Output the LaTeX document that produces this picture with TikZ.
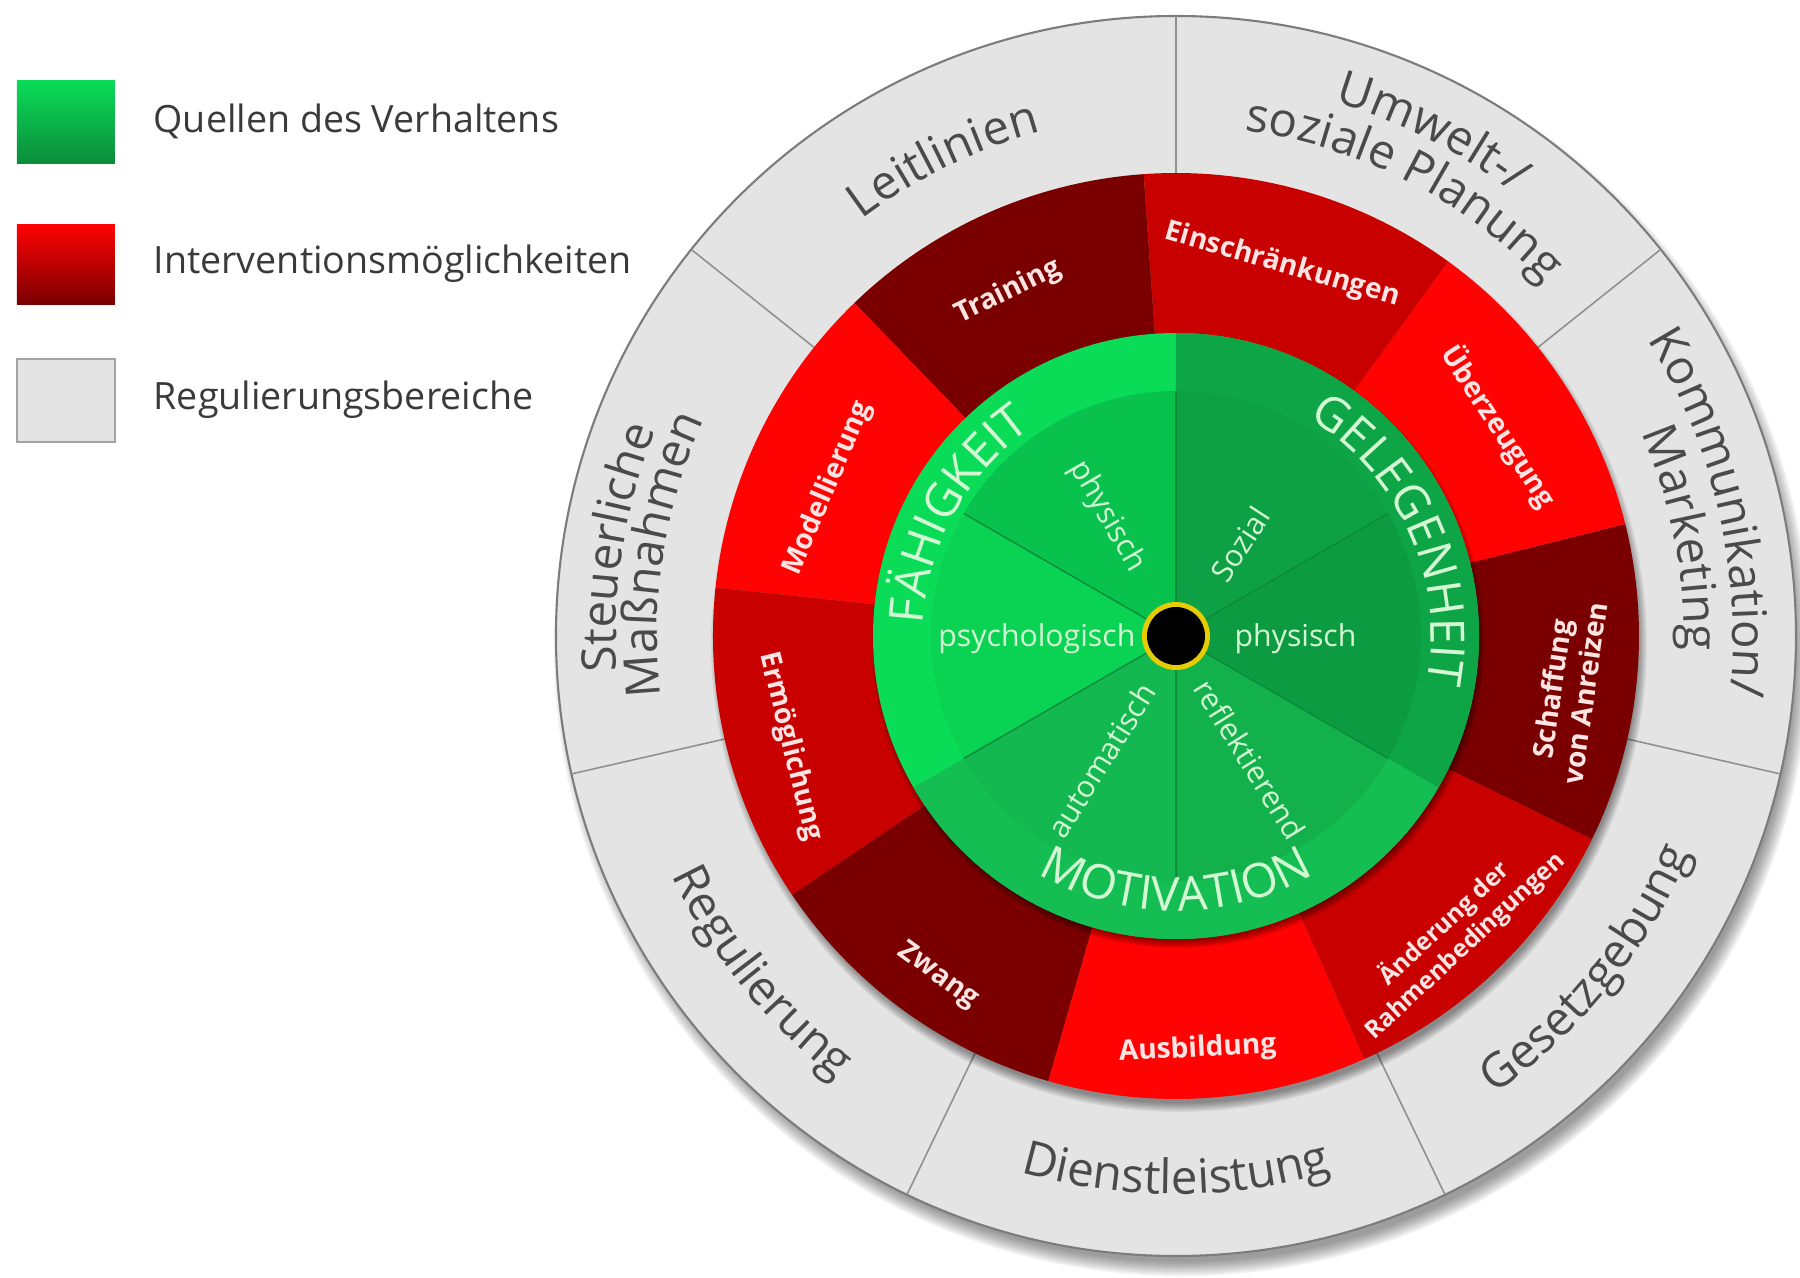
\documentclass[tikz,border=0pt]{standalone}
\usepackage{fontspec}
\setmainfont{Open Sans}
\usepackage{tikz}
\usetikzlibrary{decorations.text}

\definecolor{ringgray}{HTML}{E4E4E4}
\definecolor{ringline}{HTML}{7C7C7C}
\definecolor{ringtext}{HTML}{4A4A4A}
\definecolor{redA}{HTML}{FF0303}
\definecolor{redB}{HTML}{C80000}
\definecolor{redC}{HTML}{7A0000}
\definecolor{redtext}{HTML}{FFE4E4}
\definecolor{grnF}{HTML}{0ADC58}
\definecolor{grnM}{HTML}{14BE52}
\definecolor{grnG}{HTML}{0EA546}
\definecolor{grnLine}{HTML}{0B8A3A}
\definecolor{grntext}{HTML}{D4F8D4}
\definecolor{dotring}{HTML}{E6CC00}
\definecolor{legendtext}{HTML}{3A3A3A}

\newcommand\ringfont{\fontsize{13.5}{16}\selectfont}
\newcommand\srcfont{\fontsize{13.5}{16}\selectfont}

% text on an arc: start angle, end angle, radius, font, colour, text
\newcommand\arctext[6]{%
  \path[decorate, decoration={text along path, text align=center,
      text color=#5, text={|#4|#6}}]
    (#1:#3) arc[start angle=#1, end angle=#2, radius=#3];}

% soft shadow under a disc: xshift, yshift, radius, spread
\newcommand\discshadow[4]{%
  \foreach \s in {0,...,7}
    \fill[black, opacity=.06] (#1,#2) circle ({#3+#4-\s*#4/4});}

\tikzset{
  legendlbl/.style={anchor=west, inner sep=0pt, text=legendtext,
    font=\fontsize{10.7}{13}\selectfont},
  redlbl/.style={inner sep=0pt, align=center, text=redtext,
    font=\bfseries\fontsize{8}{9.4}\selectfont},
  sublbl/.style={inner sep=0pt, text=grntext,
    font=\fontsize{8.6}{10}\selectfont},
}

\begin{document}
\begin{tikzpicture}
    \def\rOut{6.2}
    \def\rRed{4.63}
    \def\rGrn{3.03}
    \def\rIn{2.45}
    \useasboundingbox (-11.76,-6.42) rectangle (6.24,6.36);

    % legend
    \shade[top color=grnF, bottom color=grnG!85!black] (-11.59,5.56) rectangle (-10.61,4.73);
    \node[legendlbl] (lgquellen) at (-10.23,5.15) {Quellen des Verhaltens};
    \shade[top color=redA, bottom color=redC] (-11.59,4.12) rectangle (-10.61,3.32);
    \node[legendlbl] (lginterv) at (-10.23,3.72) {Interventionsmöglichkeiten};
    \fill[ringgray, draw=ringline!70, line width=.6pt] (-11.59,2.77) rectangle (-10.61,1.94);
    \node[legendlbl] (lgregul) at (-10.23,2.36) {Regulierungsbereiche};

    % grey ring
    \discshadow{0.06}{-0.12}{\rOut}{0.08}
    \fill[ringgray, draw=ringline, line width=.6pt] (0,0) circle (\rOut);
    \foreach \k in {0,...,6}
        \draw[ringline!85, line width=.45pt] ({90+\k*360/7}:\rRed) -- ({90+\k*360/7}:\rOut);

    % red ring
    \discshadow{0.03}{-0.08}{\rRed}{0.05}
    \foreach \a/\c in {94/redC,134/redA,174/redB,214/redC,254/redA,294/redB,334/redC,14/redA,54/redB}
        \fill[\c] (0,0) -- (\a:\rRed) arc[start angle=\a, delta angle=40, radius=\rRed] -- cycle;

    % green disc
    \discshadow{0.02}{-0.05}{\rGrn}{0.04}
    \fill[grnF] (0,0) circle (\rGrn);
    \fill[grnM] (0,0) -- (210:\rGrn) arc[start angle=210, end angle=330, radius=\rGrn] -- cycle;
    \fill[grnG] (0,0) -- (330:\rGrn) arc[start angle=330, end angle=450, radius=\rGrn] -- cycle;
    \foreach \a/\c in {90/grnF!88!black,150/grnF!96!black,210/grnM!97!black,270/grnM!93!black,330/grnG!94!black,30/grnG!97!black}
        \fill[\c] (0,0) -- (\a:\rIn) arc[start angle=\a, delta angle=60, radius=\rIn] -- cycle;
    \foreach \a in {30,90,...,330}
        \draw[grnLine, line width=.4pt] (0,0) -- (\a:\rIn);

    \arctext{191}{111}{2.53}{\srcfont}{grntext}{FÄHIGKEIT}
    \arctext{69}{-21}{2.55}{\srcfont}{grntext}{GELEGENHEIT}
    \arctext{230}{310}{2.75}{\srcfont}{grntext}{MOTIVATION}

    \node[sublbl, rotate=-60] (fphys) at (120:1.38) {physisch};
    \node[sublbl, anchor=east] (fpsych) at (-0.40,-0.03) {psychologisch};
    \node[sublbl, rotate=57] (gsoz) at (55:1.12) {Sozial};
    \node[sublbl, anchor=west] (gphys) at (0.58,-0.03) {physisch};
    \node[sublbl, rotate=58] (mauto) at (239:1.45) {automatisch};
    \node[sublbl, rotate=-58] (mrefl) at (301:1.44) {reflektierend};

    % centre dot
    \fill[dotring] (0,0) circle (0.34);
    \fill[black] (0,0) circle (0.29);

    % interventions
    \node[redlbl, rotate=26] (training) at (116:3.83) {Training};
    \node[redlbl, rotate=-16] (einschr) at (74:3.86) {Einschränkungen};
    \node[redlbl, rotate=-57] (ueberz) at (33:3.85) {Überzeugung};
    \node[redlbl, rotate=82] (anreize) at (352:3.96) {Schaffung\\von Anreizen};
    \node[redlbl, rotate=43, font=\bfseries\fontsize{7}{8.6}\selectfont] (rahmen) at (313:4.08) {Änderung der\\Rahmenbedingungen};
    \node[redlbl, rotate=3] (ausbild) at (273:4.14) {Ausbildung};
    \node[redlbl, rotate=-36] (zwang) at (235:4.15) {Zwang};
    \node[redlbl, rotate=-76] (ermoegl) at (196:4.01) {Ermöglichung};
    \node[redlbl, rotate=67] (modell) at (157:3.78) {Modellierung};

    % policy categories
    \arctext{141}{91}{5.22}{\ringfont}{ringtext}{Leitlinien}
    \arctext{92}{34}{5.57}{\ringfont}{ringtext}{Umwelt-/}
    \arctext{95}{31}{5.10}{\ringfont}{ringtext}{soziale Planung}
    \arctext{45}{-19}{5.57}{\ringfont}{ringtext}{Kommunikation/}
    \arctext{43}{-21}{5.08}{\ringfont}{ringtext}{Marketing}
    \arctext{292}{350}{5.58}{\ringfont}{ringtext}{Gesetzgebung}
    \arctext{242}{298}{5.58}{\ringfont}{ringtext}{Dienstleistung}
    \arctext{190}{248}{5.58}{\ringfont}{ringtext}{Regulierung}
    \arctext{200}{142}{5.60}{\ringfont}{ringtext}{Steuerliche}
    \arctext{200}{142}{5.19}{\ringfont}{ringtext}{Maßnahmen}
\end{tikzpicture}
\end{document}
